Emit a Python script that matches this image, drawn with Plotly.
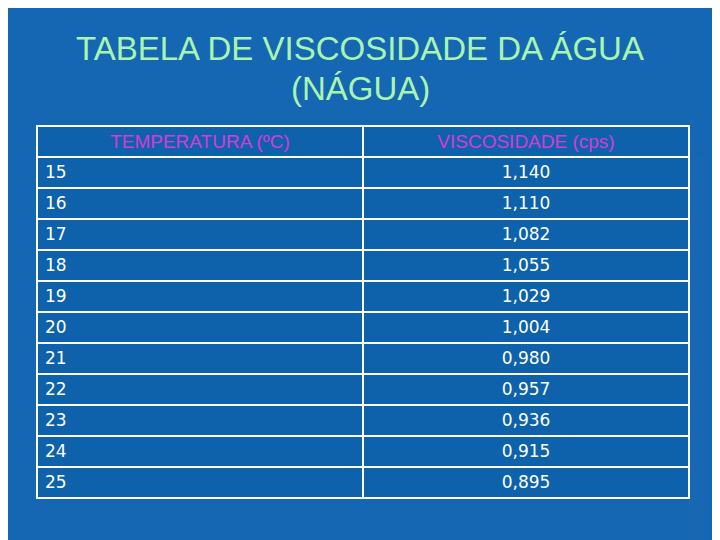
import plotly.graph_objects as go

# table contents
temperaturas = ["15", "16", "17", "18", "19", "20", "21", "22", "23", "24", "25"]
viscosidades = ["1,140", "1,110", "1,082", "1,055", "1,029", "1,004",
                "0,980", "0,957", "0,936", "0,915", "0,895"]
cabecalho = ["TEMPERATURA (ºC)", "VISCOSIDADE (cps)"]
titulo = ["TABELA DE VISCOSIDADE DA ÁGUA", "(NÁGUA)"]

W, H = 720, 540
OFF = 8  # page body margin
fig = go.Figure(go.Table(
    domain=dict(x=[(37 - OFF) / W, (689 - OFF) / W], y=[0, 1 - (126 - OFF) / H]),
    columnwidth=[326, 326],
    header=dict(
        values=cabecalho,
        fill_color="#0d62ab",
        line=dict(color="white", width=2),
        font=dict(family="Liberation Sans", size=19, color="#d63ad8"),
        align="center",
        height=31,
    ),
    cells=dict(
        values=[temperaturas, viscosidades],
        fill_color="#0d62ab",
        line=dict(color="white", width=2),
        font=dict(family="DejaVu Sans", size=17, color="white"),
        align=["left", "center"],
        height=31,
    ),
))

for linha, ypix in zip(titulo, [48, 88]):
    fig.add_annotation(
        text=linha,
        x=(360 - OFF) / W, y=1 - (ypix - OFF) / H, xref="paper", yref="paper",
        yanchor="middle", showarrow=False,
        font=dict(family="Liberation Sans", size=33, color="#a8f5b0"),
    )

fig.update_layout(
    width=W, height=H,
    margin=dict(l=0, r=0, t=0, b=0),
    paper_bgcolor="#1566b3",
    plot_bgcolor="#1566b3",
)

fig.write_html("out.html")
